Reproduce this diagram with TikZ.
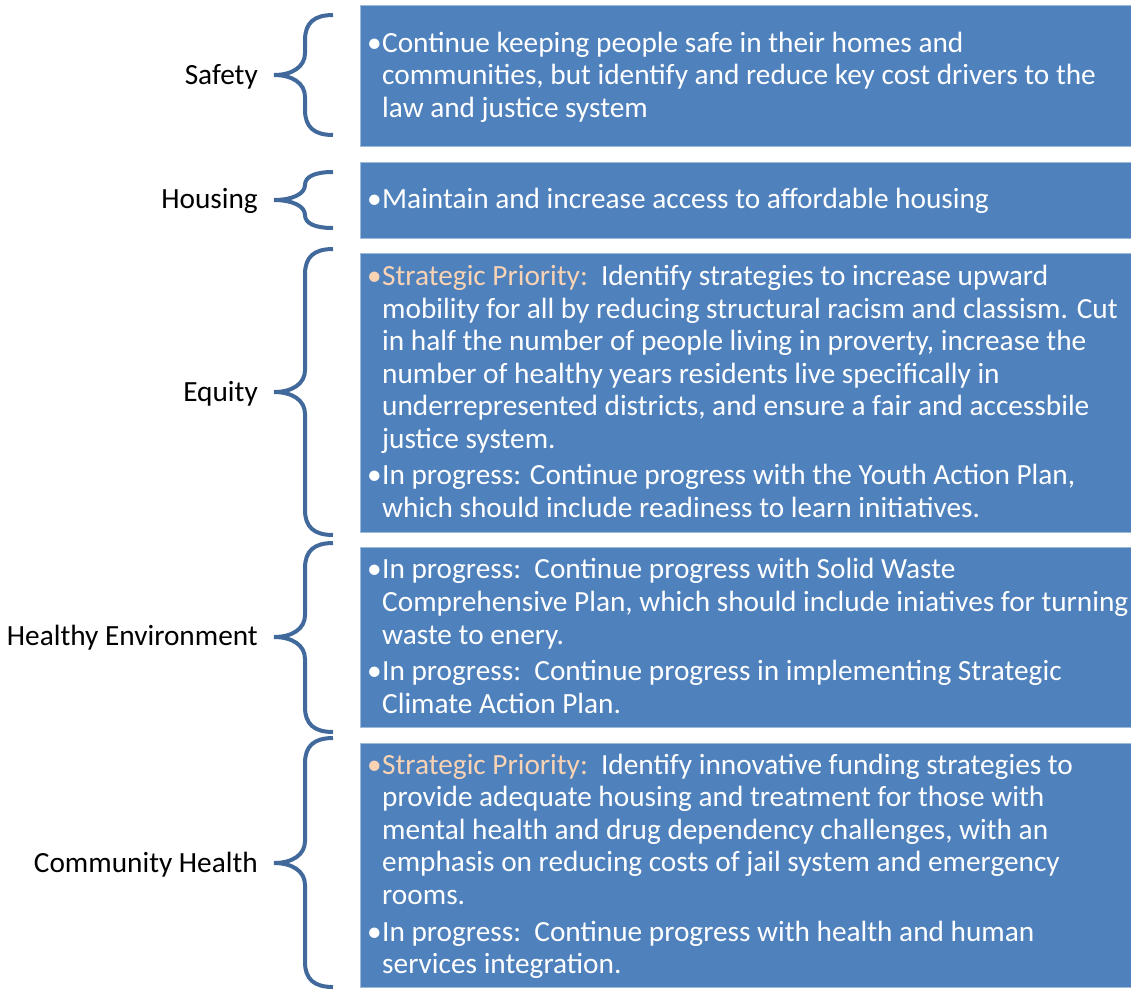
\documentclass[tikz,border=0pt]{standalone}
\usepackage{fontspec}
\setmainfont{Carlito}
\definecolor{boxblue}{HTML}{4F81BD}
\definecolor{bracecol}{HTML}{41699C}
\definecolor{peach}{HTML}{FAD3B4}
\tikzset{
  box/.style={fill=boxblue, draw=boxblue!55!white, line width=0.8pt, inner sep=0pt, anchor=north west, minimum width=771pt},
  btext/.style={anchor=base west, inner sep=0pt, text=white, font=\fontsize{29.3}{32.6}\selectfont},
  lab/.style={anchor=base east, inner sep=0pt, font=\fontsize{29.3}{32.6}\selectfont},
  bracestyle/.style={draw=bracecol, line width=4pt},
}
\newcommand\blk[1]{\begin{tabular}[t]{@{}l@{}}#1\end{tabular}}
\newcommand\bul{\makebox[15pt][l]{•}}
\newcommand\ind{\hspace*{15pt}}
\newcommand\curlybr[3]{%
  \draw[bracestyle] (333,#1) .. controls (314,#1) and (305,#1+8) .. (305,#1+25)
    -- (305,#2-22) .. controls (305,#2-8) and (292,#2) .. (274,#2)
    .. controls (292,#2) and (305,#2+8) .. (305,#2+22)
    -- (305,#3-25) .. controls (305,#3-8) and (314,#3) .. (333,#3);}
\begin{document}
\begin{tikzpicture}[x=1pt,y=-1pt]
\useasboundingbox (0,0) rectangle (1131,989);
% boxes
\node[box, minimum height=141pt] (b1) at (360,5) {};
\node[box, minimum height=76pt] (b2) at (360,162) {};
\node[box, minimum height=279pt] (b3) at (360,253) {};
\node[box, minimum height=180pt] (b4) at (360,547) {};
\node[box, minimum height=244pt] (b5) at (360,743) {};
% texts
\node[btext] (t1) at (367,52) {\blk{\bul Continue keeping people safe in their homes and\\
\ind communities, but identify and reduce key cost drivers to the\\
\ind law and justice system}};
\node[btext] (t2) at (367,208) {\blk{\bul Maintain and increase access to affordable housing}};
\node[btext] (t3) at (367,285.5) {\blk{\textcolor{peach}{\bul Strategic Priority:}\ \ Identify strategies to increase upward\\
\ind mobility for all by reducing structural racism and classism. Cut\\
\ind in half the number of people living in proverty, increase the\\
\ind number of healthy years residents live specifically in\\
\ind underrepresented districts, and ensure a fair and accessbile\\
\ind justice system.\\[3.5pt]
\bul In progress: Continue progress with the Youth Action Plan,\\
\ind which should include readiness to learn initiatives.}};
\node[btext] (t4) at (367,578) {\blk{\bul In progress:\ \ Continue progress with Solid Waste\\[0.8pt]
\ind Comprehensive Plan, which should include iniatives for turning\\[0.8pt]
\ind waste to enery.\\[3pt]
\bul In progress:\ \ Continue progress in implementing Strategic\\[0.8pt]
\ind Climate Action Plan.}};
\node[btext] (t5) at (367,774) {\blk{\textcolor{peach}{\bul Strategic Priority:}\ \ Identify innovative funding strategies to\\
\ind provide adequate housing and treatment for those with\\
\ind mental health and drug dependency challenges, with an\\
\ind emphasis on reducing costs of jail system and emergency\\
\ind rooms.\\[4pt]
\bul In progress:\ \ Continue progress with health and human\\
\ind services integration.}};
% labels
\node[lab] (l1) at (258,84.5) {Safety};
\node[lab] (l2) at (258,208.5) {Housing};
\node[lab] (l3) at (258,401) {Equity};
\node[lab] (l4) at (258,645.5) {Healthy Environment};
\node[lab] (l5) at (258,872) {Community Health};
% braces
\curlybr{15}{75}{135}
\draw[bracestyle] (333,172) .. controls (314,172) and (305,177) .. (305,185)
  .. controls (305,194) and (292,200) .. (274,200)
  .. controls (292,200) and (305,206) .. (305,215)
  .. controls (305,223) and (314,228) .. (333,228);
\curlybr{249}{392}{535}
\curlybr{543}{637}{732}
\curlybr{738}{863}{987}
\end{tikzpicture}
\end{document}
